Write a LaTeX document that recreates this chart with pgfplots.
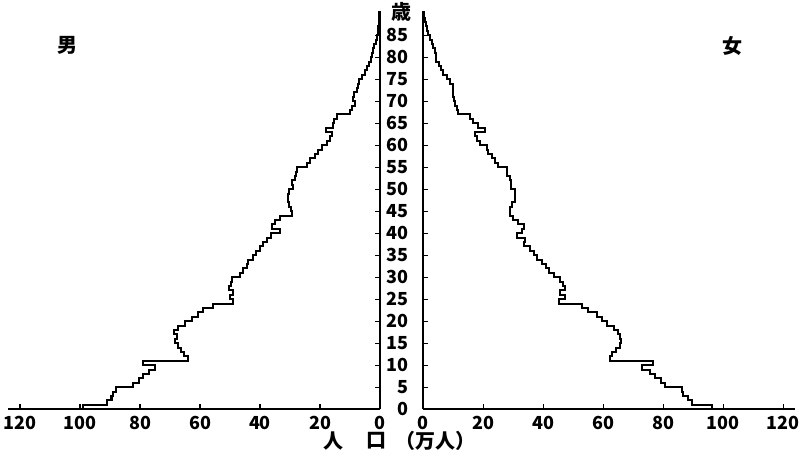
\documentclass[border=0pt]{standalone}
\usepackage{pgfplots}
\pgfplotsset{compat=1.18}
\usepackage{pgfplotstable}
\usepackage{fontspec}
\setmainfont{Noto Sans CJK JP}

\pgfplotstableread{
age m f
0 99 96.1
1 91 89.5
2 89.5 88.3
3 89 86.5
4 88 86.1
5 82.2 80.6
6 80.5 79.2
7 79 77.2
8 77 75.6
9 75 72.8
10 79 76.7
11 63.9 62.3
12 65.5 63
13 66.5 64.4
14 67.5 65.6
15 68.5 66
16 67.8 65.5
17 68.8 64.8
18 67.5 63.5
19 65 61.1
20 62.8 59.5
21 60.8 58
22 59 55
23 55.6 52.8
24 48.9 45.4
25 50 47.2
26 49 45.6
27 50.2 47.2
28 49.7 46.7
29 49.5 45.5
30 46.7 43.5
31 45.8 42
32 44.4 40.8
33 43.9 39.5
34 42.2 37.8
35 41.2 37
36 40 35.5
37 38.9 33.6
38 37.8 33.9
39 36.5 31.1
40 33.5 32.8
41 36 33.6
42 35 31.5
43 33.5 29.8
44 29.4 29
45 29.8 29
46 30.2 29.5
47 30.6 30.6
48 30.6 30.6
49 30.2 30.6
50 28.9 29.4
51 29.4 29.4
52 28.3 28.9
53 28 27.8
54 27.8 27.8
55 24.4 25
56 23.3 24
57 21.7 22.8
58 20.6 21.7
59 19.4 21.1
60 17.8 18.9
61 16.7 17.8
62 16.1 17.2
63 18 20.6
64 15.6 18.3
65 15.3 16.7
66 14.4 15.6
67 10 11.5
68 9.4 11.1
69 8.3 10.6
70 8.9 10.2
71 8.6 10
72 7.8 10
73 7.5 9.8
74 7 8.9
75 6.1 7.8
76 5 6.7
77 4.4 6
78 3.6 5.2
79 3 4.4
80 2.7 4.2
81 2.2 3.9
82 1.9 3.3
83 1.3 2.8
84 1.1 2.3
85 0.8 1.7
86 0.6 1.4
87 0.5 1
88 0.3 0.6
89 0.2 0.3
90.4 0 0
}\pyr

\begin{document}
\begin{tikzpicture}
\useasboundingbox (0pt,0pt) rectangle (400pt,229pt);
\pgfplotsset{
  pyr/.style={
    scale only axis, width=186pt, height=199.1pt,
    ymin=0, ymax=90.5,
    axis line style={line width=1pt},
    tick style={black, line width=0.6pt},
    major tick length=2.5pt,
    tick label style={font=\bfseries\fontsize{9}{10}\selectfont},
    /pgf/number format/assume math mode=true,
    ytick={0,5,...,85},
    clip=false,
  }
}
\begin{axis}[pyr, at={(4pt,24.35pt)}, anchor=south west,
  xmin=-124, xmax=0,
  axis x line*=bottom, axis y line*=right,
  xtick={-120,-100,-80,-60,-40,-20,0},
  xticklabels={120,100,80,60,40,20,0},
  yticklabels={},
  tick align=inside,
  ]
\addplot[black, line width=1pt, const plot mark right] table[x expr=-\thisrow{m}, y=age] {\pyr};
\end{axis}
\begin{axis}[pyr, at={(211.65pt,24.35pt)}, anchor=south west,
  xmin=0, xmax=124,
  axis x line*=bottom, axis y line*=left,
  xtick={0,20,...,120},
  tick align=inside,
  yticklabel style={xshift=-4pt},
  ]
\addplot[black, line width=1pt, const plot mark right] table[x=f, y=age] {\pyr};
\end{axis}
\node[font=\bfseries\fontsize{10}{11}\selectfont] at (33.5pt,206.5pt) {男};
\node[font=\bfseries\fontsize{10}{11}\selectfont] at (366pt,206pt) {女};
\node[font=\bfseries\fontsize{10}{11}\selectfont] at (200.5pt,223pt) {歳};
\node[font=\bfseries\fontsize{10}{11}\selectfont] at (166.5pt,8.7pt) {人};
\node[font=\bfseries\fontsize{10}{11}\selectfont] at (188.3pt,8.7pt) {口};
\node[font=\bfseries\fontsize{10}{11}\selectfont] at (217.5pt,8.7pt) {（万人）};
\end{tikzpicture}
\end{document}
